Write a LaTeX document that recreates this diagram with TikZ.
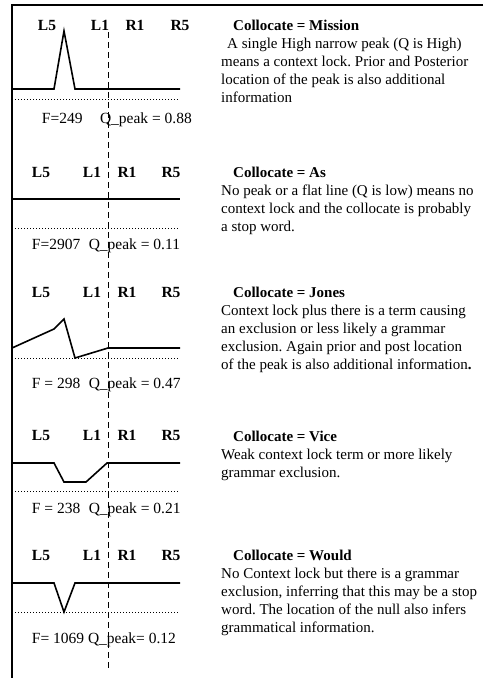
\documentclass[tikz,border=0pt]{standalone}
\usepackage{fontspec}
\setmainfont{Liberation Serif}
\begin{document}
\begin{tikzpicture}[x=1pt,y=-1pt,
  lab/.style={font=\fontsize{15.5}{18}\selectfont\bfseries, inner sep=0pt},
  desc/.style={font=\fontsize{15}{18}\selectfont\frenchspacing, align=left, anchor=north west, inner sep=0pt},
  stat/.style={font=\fontsize{15.5}{18}\selectfont, anchor=base west, inner sep=0pt},
  curve/.style={line width=1.6pt, line join=miter},
  base/.style={line width=1pt, dash pattern=on 1pt off 2pt},
  axis/.style={line width=1.6pt, dash pattern=on 6pt off 4pt},
  frame/.style={line width=2pt}]
\useasboundingbox (0,0) rectangle (483,678);
% frame
\draw[frame] (483,5) -- (11.5,5) -- (11.5,678);
% central dashed axis
\coordinate (axtop) at (108.3,32);
\coordinate (axbot) at (108.3,668);
\draw[axis] (axtop) -- (axbot);

% ---------- panel 1 ----------
\node[lab] (p1L5) at (47,25) {L5};
\node[lab] (p1L1) at (100,25) {L1};
\node[lab] (p1R1) at (135,25) {R1};
\node[lab] (p1R5) at (180,25) {R5};
\draw[curve] (12,89) -- (54,89) -- (64,31) -- (75,89) -- (180,89);
\draw[base] (12,99) -- (178,99);
\node[stat] (p1F) at (41.7,123) {F=249\hspace{17.5pt}Q\_peak = 0.88};
\node[desc] (p1D) at (221,19.8) {\hspace*{12pt}\textbf{Collocate = Mission}\\
\hspace*{6pt}A single High narrow peak (Q is High)\\
means a context lock. Prior and Posterior\\
location of the peak is also additional\\
information};

% ---------- panel 2 ----------
\node[lab] (p2L5) at (41,172) {L5};
\node[lab] (p2L1) at (92,172) {L1};
\node[lab] (p2R1) at (127,172) {R1};
\node[lab] (p2R5) at (171,172) {R5};
\draw[curve] (12,199) -- (180,199);
\draw[base] (12,228) -- (178,228);
\node[stat] (p2F) at (31.7,249) {F=2907\hspace{8.5pt}Q\_peak = 0.11};
\node[desc] (p2D) at (221,166.8) {\hspace*{12pt}\textbf{Collocate = As}\\
No peak or a flat line (Q is low) means no\\
context lock and the collocate is probably\\
a stop word.};

% ---------- panel 3 ----------
\node[lab] (p3L5) at (41,292) {L5};
\node[lab] (p3L1) at (92,292) {L1};
\node[lab] (p3R1) at (127,292) {R1};
\node[lab] (p3R5) at (171,292) {R5};
\draw[curve] (12,348) -- (54,329) -- (64,319) -- (75,358) -- (108,348) -- (180,348);
\draw[base] (12,358) -- (178,358);
\node[stat] (p3F) at (31.7,388) {F = 298\hspace{8.5pt}Q\_peak = 0.47};
\node[desc] (p3D) at (221,286.8) {\hspace*{12pt}\textbf{Collocate = Jones}\\
Context lock plus there is a term causing\\
an exclusion or less likely a grammar\\
exclusion. Again prior and post location\\
of the peak is also additional information\textbf{.}};

% ---------- panel 4 ----------
\node[lab] (p4L5) at (41,435) {L5};
\node[lab] (p4L1) at (92,435) {L1};
\node[lab] (p4R1) at (127,435) {R1};
\node[lab] (p4R5) at (171,435) {R5};
\draw[curve] (12,463) -- (54,463) -- (64,482) -- (86,482) -- (107,463) -- (180,463);
\draw[base] (12,491) -- (178,491);
\node[stat] (p4F) at (31.7,513) {F = 238\hspace{8.5pt}Q\_peak = 0.21};
\node[desc] (p4D) at (221,430.8) {\hspace*{12pt}\textbf{Collocate = Vice}\\
Weak context lock term or more likely\\
grammar exclusion.};

% ---------- panel 5 ----------
\node[lab] (p5L5) at (41,555) {L5};
\node[lab] (p5L1) at (92,555) {L1};
\node[lab] (p5R1) at (127,555) {R1};
\node[lab] (p5R5) at (171,555) {R5};
\draw[curve] (12,583) -- (54,583) -- (64,612) -- (75,583) -- (180,583);
\draw[base] (12,612) -- (178,612);
\node[stat] (p5F) at (31.7,643) {F= 1069 Q\_peak= 0.12};
\node[desc] (p5D) at (221,549.8) {\hspace*{12pt}\textbf{Collocate = Would}\\
No Context lock but there is a grammar\\
exclusion, inferring that this may be a stop\\
word. The location of the null also infers\\
grammatical information.};
\end{tikzpicture}
\end{document}
